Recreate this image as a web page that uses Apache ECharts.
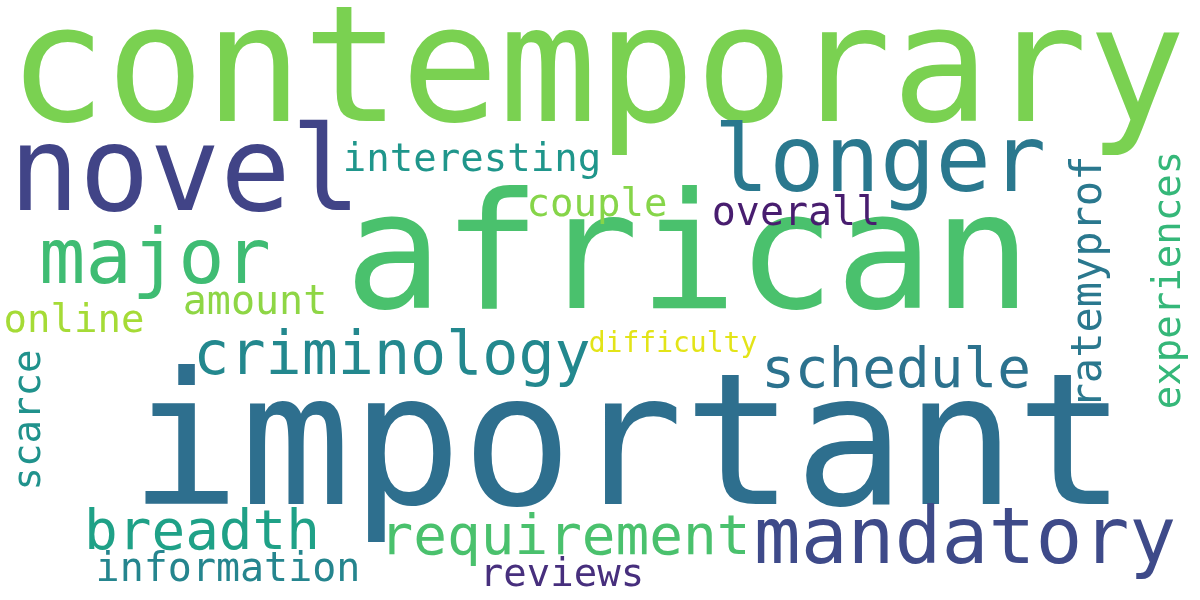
<!DOCTYPE html>
<html><head><meta charset="utf-8">
<script src="https://cdn.jsdelivr.net/npm/echarts@6/dist/echarts.min.js"></script>
<style>html,body{margin:0;padding:0;background:#fff}#c{width:1200px;height:600px}</style>
</head><body><div id="c"></div>
<script>
const words = ["contemporary","african","important","novel","longer","mandatory","major","criminology","schedule","breadth","requirement","interesting","couple","overall","amount","online","difficulty","information","reviews","scarce","ratemyprof","experiences"];
const xs = [597,688,628,185,880,965,155,392,896,202,565,472,597,796,255,74,673,228,562,30,1090,1170];
const ys = [79,266,456,180,167,543,263,358,372,534,539,161,206,215,304,322,345,571,576,420,282,280];
const sizes = [163,163,184,117,92,78,77,60,56,56,56,39,39,40,40,39,28,40,39,39,42,39];
const rotations = [0,0,0,0,0,0,0,0,0,0,0,0,0,0,0,0,0,0,0,90,90,90];
const colors = ["#7ad151","#4ac16d","#2e6f8e","#414487","#2a788e","#3e4a89","#3fbc73","#23888e","#2c728e","#1fa187","#4ac16d","#1f968b","#86d549","#481d6f","#8ed645","#a5db36","#e3e418","#25858e","#472f7d","#20928c","#2a788e","#35b779"];

const data = words.map((w,i)=>({
  value:[xs[i],ys[i]], name:w,
  itemStyle:{opacity:1},
  label:{show:true,formatter:w,fontSize:sizes[i],rotate:rotations[i],color:colors[i],opacity:1,
    fontFamily:'DejaVu Sans Mono',position:'inside',align:'center',verticalAlign:'middle'}
}));
const chart = echarts.init(document.getElementById('c'));
chart.setOption({
  backgroundColor:'#fff',animation:false,
  grid:{left:0,right:0,top:0,bottom:0},
  xAxis:{type:'value',min:0,max:1200,show:false},
  yAxis:{type:'value',min:0,max:600,inverse:true,show:false},
  series:[{type:'scatter',symbolSize:0,itemStyle:{opacity:1},data:data,labelLayout:{hideOverlap:false}}]
});
</script></body></html>
